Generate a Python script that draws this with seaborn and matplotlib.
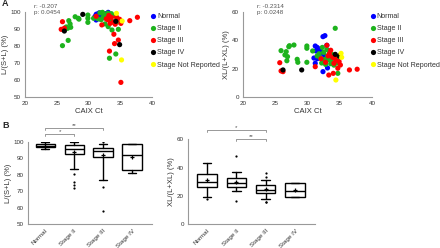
import numpy as np
import pandas as pd
import matplotlib
matplotlib.use("Agg")
import matplotlib.pyplot as plt
import seaborn as sns

# ---------------- data ----------------
stages = ["Normal", "Stage II", "Stage III", "Stage IV", "Stage Not Reported"]
colors = ["#0000FF", "#1DB31D", "#FF0000", "#000000", "#FFFF00"]

normal_ct = [31.2, 31.5, 31.7, 32.0, 32.4, 32.7, 31.3, 31.0, 31.7, 32.7, 31.2, 32.4, 33.1, 32.8, 31.5, 32.5, 33.0, 32.0]
normal_L = [98.5, 97.0, 99.5, 97.5, 98.0, 96.5, 98.8, 97.2, 96.0, 99.0, 95.3, 97.8, 99.8, 98.2, 97.6, 96.8, 97.4, 99.2]
normal_XL = [36.0, 35.0, 34.0, 33.0, 42.6, 43.3, 32.5, 27.5, 28.5, 27.3, 23.8, 17.9, 20.5, 26.0, 27.0, 30.0, 36.5, 31.0]

s2_ct = [25.9, 26.8, 26.5, 26.7, 27.1, 26.9, 27.2, 27.9, 28.4, 28.5, 29.9, 29.9, 29.9, 30.8,
         33.3, 34.3, 34.7, 33.7, 33.1, 31.8, 32.2, 32.5, 32.8, 33.2, 33.5, 33.8, 32.0, 34.1,
         33.0, 32.6, 34.5, 31.5, 33.4, 34.6, 32.3, 33.6]
s2_L = [80.2, 83.3, 91.2, 90.4, 93.0, 94.9, 91.0, 97.2, 96.3, 95.8, 98.2, 96.3, 93.9, 96.3,
        72.8, 75.3, 89.8, 89.4, 91.4, 99.5, 99.8, 98.6, 97.5, 96.3, 95.5, 94.2, 95.5, 97.8,
        99.3, 93.0, 96.5, 96.0, 98.8, 94.2, 97.0, 99.0]
s2_XL = [32.7, 25.6, 29.7, 32.0, 35.5, 28.5, 36.2, 36.7, 26.6, 24.5, 36.0, 34.4, 24.5, 32.5,
         27.0, 48.5, 16.7, 25.0, 29.0, 30.5, 24.0, 31.5, 23.0, 28.0, 26.0, 30.0, 27.5, 22.5,
         33.5, 26.5, 27.0, 29.0, 32.0, 24.0, 35.0, 23.5]

s3_ct = [25.7, 25.9, 26.2, 37.7, 36.5, 32.1, 34.0, 34.1, 34.7, 33.3, 35.1, 35.1, 34.9, 33.4,
         33.9, 33.0, 34.4, 32.8, 33.6, 34.2, 31.2, 33.2]
s3_L = [89.8, 94.3, 90.5, 96.9, 94.9, 92.4, 86.9, 81.4, 83.5, 77.0, 58.6, 93.3, 95.7, 93.3,
        94.1, 95.5, 97.0, 96.0, 96.8, 92.8, 97.5, 98.0]
s3_XL = [24.2, 18.4, 17.9, 19.6, 19.1, 27.0, 16.7, 23.8, 20.3, 15.5, 22.6, 29.5, 25.0, 30.5,
         28.0, 36.5, 26.0, 24.5, 33.0, 27.5, 21.4, 29.0]

s4_ct = [26.2, 29.1, 34.3, 34.9]
s4_L = [88.8, 98.6, 94.5, 80.8]
s4_XL = [19.1, 19.1, 30.1, 29.0]

nr_ct = [34.4, 35.2, 35.3]
nr_L = [99.2, 71.8, 94.7]
nr_XL = [12.0, 30.8, 28.0]

# box plot summaries (panel B)
box_cats = ["Normal", "Stage II", "Stage III", "Stage IV"]
L_whislo = [95.5, 83.7, 76.8, 80.9]
L_q1 = [97.1, 92.7, 91.0, 82.9]
L_med = [97.7, 95.9, 94.5, 92.3]
L_q3 = [98.6, 98.2, 96.5, 98.6]
L_whishi = [100.0, 100.0, 98.8, 98.6]
L_mean = [97.6, 94.1, 91.9, 90.7]
L_fliers = [[], [80.3, 75.4, 73.8, 72.2], [72.8, 58.1, 100.0], []]

XL_whislo = [19.3, 23.6, 17.7, 18.8]
XL_q1 = [26.4, 26.0, 22.0, 18.9]
XL_med = [30.0, 28.8, 24.1, 23.6]
XL_q3 = [35.6, 32.3, 27.4, 28.8]
XL_whishi = [43.0, 36.6, 30.9, 29.3]
XL_mean = [31.0, 29.5, 24.6, 24.1]
XL_fliers = [[17.5], [48.4, 16.2], [36.3, 33.5, 15.7, 15.9], []]

# ---------------- style ----------------
sns.set_style("white")
plt.rcParams["font.family"] = ["Liberation Sans", "DejaVu Sans"]
TXT = "#333333"
SP = "#999999"

df = pd.DataFrame({
    "ct": normal_ct + s2_ct + s3_ct + s4_ct + nr_ct,
    "L": normal_L + s2_L + s3_L + s4_L + nr_L,
    "XL": normal_XL + s2_XL + s3_XL + s4_XL + nr_XL,
    "stage": (["Normal"] * len(normal_ct) + ["Stage II"] * len(s2_ct) + ["Stage III"] * len(s3_ct)
              + ["Stage IV"] * len(s4_ct) + ["Stage Not Reported"] * len(nr_ct)),
})

fig = plt.figure(figsize=(4.4, 2.48), dpi=100)
W, H = 440, 248


def ax_px(x0, x1, ytop, ybot):
    return fig.add_axes([x0 / W, 1 - ybot / H, (x1 - x0) / W, (ybot - ytop) / H])


def style_axes(ax):
    for s in ["top", "right"]:
        ax.spines[s].set_visible(False)
    for s in ["left", "bottom"]:
        ax.spines[s].set_color(SP)
        ax.spines[s].set_linewidth(0.8)
    ax.tick_params(axis="both", which="major", length=2, width=0.6, color=SP,
                   labelsize=4.5, labelcolor=TXT, pad=1)


palette = dict(zip(stages, colors))

# ---------------- panel A ----------------
axA1 = ax_px(25, 152, 12, 97)
axA2 = ax_px(243, 372, 12, 97)

for ax, ycol, ylim, yticks, ylabel, rtxt in [
    (axA1, "L", (50, 100), np.arange(50, 101, 10), "L/(S+L) (%)", "r: -0.207\np: 0.0454"),
    (axA2, "XL", (0, 60), np.arange(0, 61, 20), "XL/(L+XL) (%)", "r: -0.2314\np: 0.0248"),
]:
    sns.scatterplot(data=df, x="ct", y=ycol, hue="stage", hue_order=stages, palette=palette,
                    s=14, edgecolor="none", linewidth=0, ax=ax, clip_on=False)
    ax.set_xlim(20, 40)
    ax.set_ylim(*ylim)
    ax.set_xticks([20, 25, 30, 35, 40])
    ax.set_yticks(yticks)
    ax.set_xlabel("CAIX Ct", fontsize=5.5, color=TXT, labelpad=1)
    ax.set_ylabel(ylabel, fontsize=5.5, color=TXT, labelpad=1)
    style_axes(ax)
    leg = ax.legend(loc="upper left", bbox_to_anchor=(0.955, 1.02), frameon=False,
                    fontsize=5.1, handletextpad=0.0, labelspacing=0.72, borderaxespad=0,
                    handlelength=1.1, markerscale=1.0)
    for t in leg.get_texts():
        t.set_color(TXT)
    ax.text(0.07 if ycol == "L" else 0.11, 1.09, rtxt, transform=ax.transAxes, fontsize=4.5,
            color="#555555", va="top", ha="left", linespacing=1.1)

fig.text(2 / W, 1 - 4 / H, "A", fontsize=6.5, fontweight="bold", va="center", ha="left")
fig.text(2 / W, 1 - 126 / H, "B", fontsize=6.5, fontweight="bold", va="center", ha="left")

# ---------------- panel B ----------------
axB1 = ax_px(28, 152, 142, 224)
axB2 = ax_px(188, 315, 139.3, 224)


def make_stats(lo, q1, med, q3, hi, mean, fl):
    return [dict(whislo=a, q1=b, med=c, q3=d, whishi=e, mean=f, fliers=g, label=n)
            for a, b, c, d, e, f, g, n in zip(lo, q1, med, q3, hi, mean, fl, box_cats)]


boxkw = dict(positions=range(4), widths=0.66, capwidths=0.3, patch_artist=True, showmeans=True,
             boxprops=dict(facecolor="white", edgecolor="black", linewidth=1.0),
             medianprops=dict(color="black", linewidth=1.0),
             whiskerprops=dict(color="black", linewidth=1.0),
             capprops=dict(color="black", linewidth=1.0),
             meanprops=dict(marker="+", markeredgecolor="black", markersize=3.5, markeredgewidth=0.9),
             flierprops=dict(marker="o", markerfacecolor="black", markeredgecolor="none", markersize=1.6))

axB1.bxp(make_stats(L_whislo, L_q1, L_med, L_q3, L_whishi, L_mean, L_fliers), **boxkw)
axB2.bxp(make_stats(XL_whislo, XL_q1, XL_med, XL_q3, XL_whishi, XL_mean, XL_fliers), **boxkw)

axB1.set_xlim(-0.59, 3.69)
axB1.set_ylim(50, 100)
axB1.set_yticks(np.arange(50, 101, 10))
axB1.set_ylabel("L/(S+L) (%)", fontsize=5.5, color=TXT, labelpad=1)
axB2.set_xlim(-0.65, 3.68)
axB2.set_ylim(0, 60)
axB2.set_yticks([0, 20, 40, 60])
axB2.set_ylabel("XL/(L+XL) (%)", fontsize=5.5, color=TXT, labelpad=1)

for ax in (axB1, axB2):
    style_axes(ax)
    ax.set_xticks(range(4))
    ax.set_xticklabels(box_cats, rotation=45, ha="right", rotation_mode="anchor", fontsize=4.5)


def bracket(ax, x0, x1, y, h, label):
    ax.plot([x0, x0, x1, x1], [y - h, y, y, y - h], color="#888888", lw=0.6, clip_on=False)
    ax.text((x0 + x1) / 2, y + h * 0.2, label, ha="center", va="bottom", fontsize=4.5,
            color="#555555", clip_on=False)


bracket(axB1, 0, 1, 104.9, 1.0, "*")
bracket(axB1, 0, 2, 108.4, 1.0, "**")
bracket(axB2, 0, 2, 66.6, 1.2, "*")
bracket(axB2, 1, 2, 60.2, 1.2, "**")

fig.savefig("out.png", dpi=100)
